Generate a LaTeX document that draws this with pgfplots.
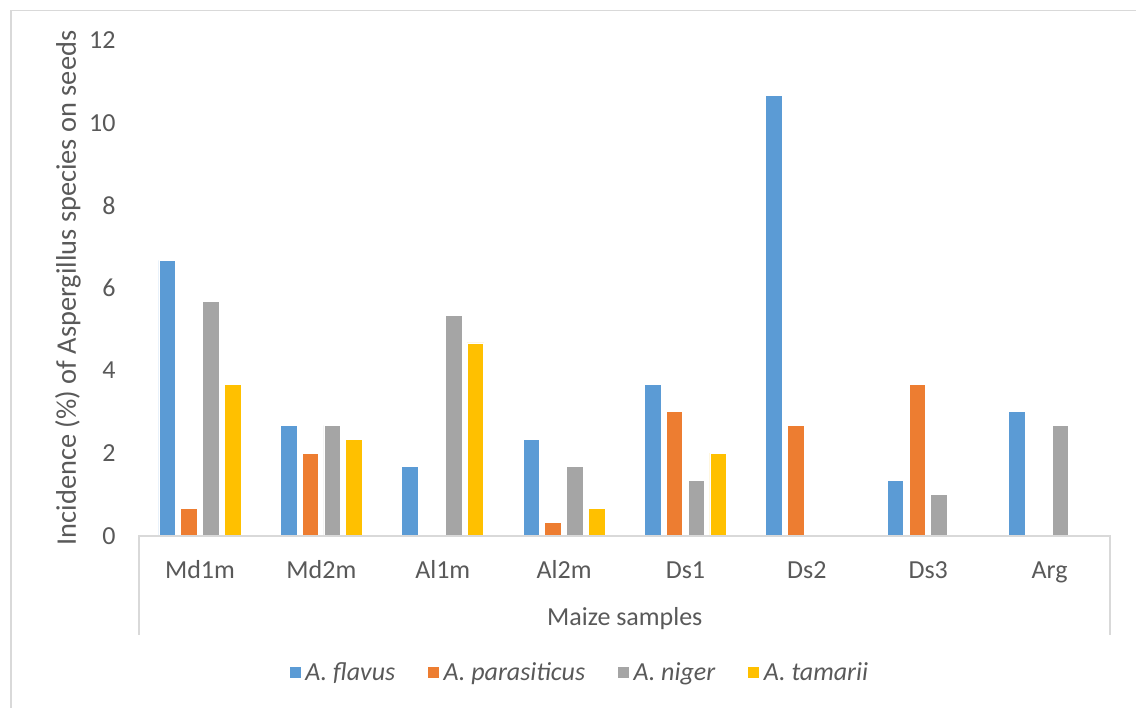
\documentclass[border=0pt]{standalone}
\usepackage{fontspec}
\setmainfont{Carlito}
\usepackage{pgfplots}
\pgfplotsset{compat=1.18}
\definecolor{cblue}{HTML}{5B9BD5}
\definecolor{corange}{HTML}{ED7D31}
\definecolor{cgray}{HTML}{A5A5A5}
\definecolor{cyellow}{HTML}{FFC000}
\definecolor{ctext}{HTML}{595959}
\definecolor{cline}{HTML}{D9D9D9}
\newcommand\chartfont{\fontsize{13bp}{15.6bp}\selectfont}
\newcommand\ytitlefont{\fontsize{14.2bp}{17bp}\selectfont}
\begin{document}
\begin{tikzpicture}
\path[use as bounding box] (0,0) rectangle (568bp,354bp);
\draw[cline, line width=0.9bp] (5.35bp,0) -- (5.35bp,348.7bp) -- (568bp,348.7bp);
\begin{axis}[
  name=ax,
  at={(69.65bp,86.15bp)}, anchor=south west,
  width=485.5bp, height=247.65bp, scale only axis,
  xmin=-0.5, xmax=7.5, ymin=0, ymax=12,
  xtick={0,...,7},
  xticklabels={Md1m,Md2m,Al1m,Al2m,Ds1,Ds2,Ds3,Arg},
  ytick={0,2,...,12},
  major tick length=0pt,
  axis line style={draw=none},
  /pgf/number format/assume math mode=true,
  tick label style={font=\chartfont, text=ctext},
  xticklabel style={anchor=base, yshift=-21.3bp},
  yticklabel style={anchor=east, inner xsep=0pt, xshift=-11.65bp},
  xlabel={Maize samples},
  ylabel={Incidence (\%) of Aspergillus species on seeds},
  label style={text=ctext},
  xlabel style={font=\chartfont, at={(axis description cs:0.5,-0.1803)}, anchor=base},
  ylabel style={font=\ytitlefont, at={(axis description cs:-0.0734,0.5)}, anchor=center},
  legend columns=4,
  legend style={at={(axis description cs:0.4544,-0.2766)}, anchor=center,
    draw=none, fill=none, font=\chartfont, text=ctext,
    nodes={inner xsep=2bp, inner ysep=1bp},
    /tikz/every even column/.append style={column sep=14bp}},
  legend image code/.code={\fill[#1] (0bp,-2.9bp) rectangle (5.8bp,2.9bp);},
]
\addplot[ybar, bar width=0.137, bar shift=-0.27, fill=cblue, draw=white, line width=0.4bp]
  coordinates {(0,6.67) (1,2.67) (2,1.67) (3,2.33) (4,3.67) (5,10.67) (6,1.33) (7,3.0)};
\addplot[ybar, bar width=0.137, bar shift=-0.09, fill=corange, draw=white, line width=0.4bp]
  coordinates {(0,0.67) (1,2.0) (2,0) (3,0.33) (4,3.0) (5,2.67) (6,3.67) (7,0)};
\addplot[ybar, bar width=0.137, bar shift=0.09, fill=cgray, draw=white, line width=0.4bp]
  coordinates {(0,5.67) (1,2.67) (2,5.33) (3,1.67) (4,1.33) (5,0) (6,1.0) (7,2.67)};
\addplot[ybar, bar width=0.137, bar shift=0.27, fill=cyellow, draw=white, line width=0.4bp]
  coordinates {(0,3.67) (1,2.33) (2,4.67) (3,0.67) (4,2.0) (5,0) (6,0) (7,0)};
\legend{\textit{A. flavus},\textit{A. parasiticus},\textit{A. niger},\textit{A. tamarii}}
\end{axis}
\draw[cline, line width=0.9bp] ([yshift=-49.65bp]ax.south west) -- (ax.south west) -- (ax.south east) -- ([yshift=-49.65bp]ax.south east);
\end{tikzpicture}
\end{document}
